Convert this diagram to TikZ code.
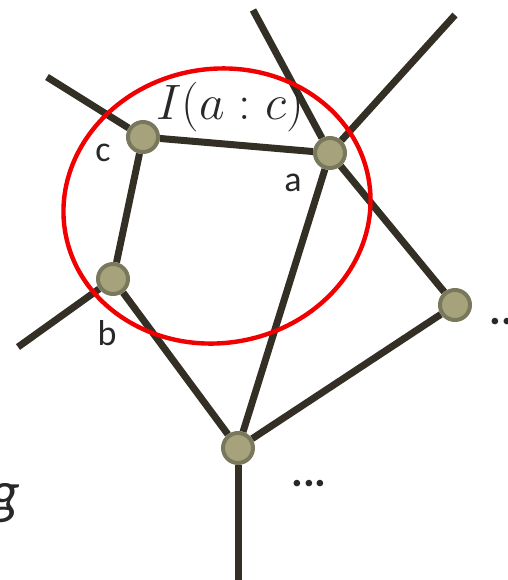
\documentclass[tikz,border=0pt]{standalone}
\usepackage{fontspec}
\setsansfont{Carlito}
\usetikzlibrary{backgrounds}

\begin{document}
\begin{tikzpicture}[
  x=0.5pt, y=-0.5pt,
  font=\sffamily\fontsize{18}{20}\selectfont,
  vert/.style={circle, draw=vborder, fill=vfill, line width=2pt, minimum size=15pt, inner sep=0pt},
  edge/.style={draw=edgec, line width=3.5pt},
  lbl/.style={text=labelc, inner sep=0pt},
  dots/.style={lbl, font=\sffamily\bfseries\fontsize{22}{24}\selectfont}
]

\definecolor{vfill}{RGB}{166,163,124}
\definecolor{vborder}{RGB}{122,120,92}
\definecolor{edgec}{RGB}{51,47,37}
\definecolor{labelc}{RGB}{40,40,40}
\definecolor{ringc}{RGB}{240,0,0}

\useasboundingbox (0,0) rectangle (508,580);

\node[vert] (c) at (143,137) {};
\node[vert] (a) at (330,153) {};
\node[vert] (b) at (113,279) {};
\node[vert] (r) at (455,305) {};
\node[vert] (m) at (238,448) {};

\coordinate (cEnd) at (47,77);
\coordinate (bEnd) at (18,347);
\coordinate (aUp) at (253,10);
\coordinate (aRight) at (455,15);
\coordinate (mDown) at (238,582);

\begin{scope}[on background layer]
\draw[edge] (c) -- (cEnd);
\draw[edge] (b) -- (bEnd);
\draw[edge] (a) -- (aUp);
\draw[edge] (a) -- (aRight);
\draw[edge] (m) -- (mDown);
\draw[edge] (c) -- (a);
\draw[edge] (c) -- (b);
\draw[edge] (b) -- (m);
\draw[edge] (a) -- (m);
\draw[edge] (a) -- (r);
\draw[edge] (m) -- (r);
\end{scope}

\node[lbl] (cLab) at (103,153) {c};
\node[lbl] (aLab) at (293,183) {a};
\node[lbl] (bLab) at (107,333) {b};
\node[dots, anchor=west] (rDots) at (489,322) {...};
\node[dots] (mDots) at (309,484) {...};
\node[lbl, font=\fontsize{27}{29}\selectfont] (mi) at (230,107) {$I(a:c)$};
\node[lbl, font=\sffamily\itshape\fontsize{30}{32}\selectfont, anchor=base] (g) at (5,512) {g};

% the red ring around a, b, c
\draw[ringc, line width=2.2pt, rotate around={10:(217,206)}] (217,206) ellipse (154 and 137);

\end{tikzpicture}
\end{document}
